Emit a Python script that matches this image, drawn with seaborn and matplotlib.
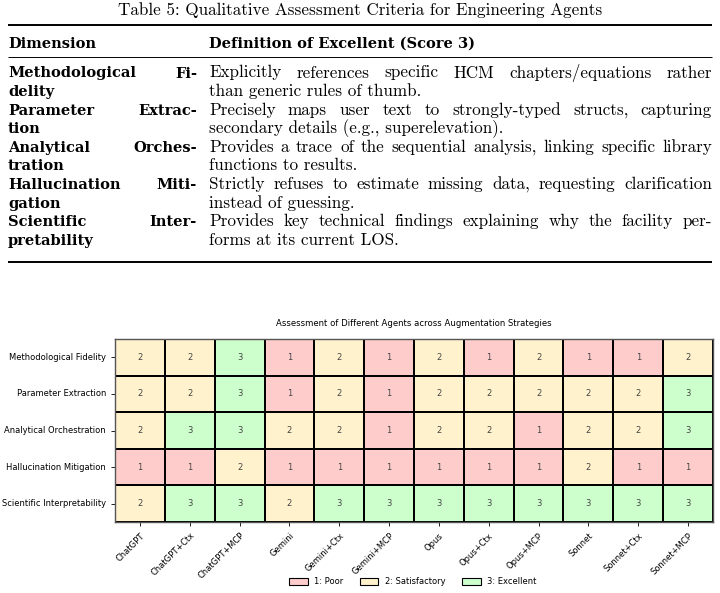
import matplotlib
matplotlib.use("Agg")
import matplotlib.pyplot as plt
import seaborn as sns
import numpy as np
import pandas as pd
from matplotlib.colors import ListedColormap
from matplotlib.patches import Patch

# ---------------- data ----------------
caption = "Table 5: Qualitative Assessment Criteria for Engineering Agents"
header_dim = "Dimension"
header_def = "Definition of Excellent (Score 3)"

dim_lines = [
    ["Methodological Fi-", "delity"],
    ["Parameter Extrac-", "tion"],
    ["Analytical Orches-", "tration"],
    ["Hallucination Miti-", "gation"],
    ["Scientific Inter-", "pretability"],
]
def_lines = [
    ["Explicitly references specific HCM chapters/equations rather",
     "than generic rules of thumb."],
    ["Precisely maps user text to strongly-typed structs, capturing",
     "secondary details (e.g., superelevation)."],
    ["Provides a trace of the sequential analysis, linking specific library",
     "functions to results."],
    ["Strictly refuses to estimate missing data, requesting clarification",
     "instead of guessing."],
    ["Provides key technical findings explaining why the facility per-",
     "forms at its current LOS."],
]

agents = ["ChatGPT", "ChatGPT+Ctx", "ChatGPT+MCP", "Gemini", "Gemini+Ctx",
          "Gemini+MCP", "Opus", "Opus+Ctx", "Opus+MCP", "Sonnet",
          "Sonnet+Ctx", "Sonnet+MCP"]
dimensions = ["Methodological Fidelity", "Parameter Extraction",
              "Analytical Orchestration", "Hallucination Mitigation",
              "Scientific Interpretability"]
methodological_fidelity = [2, 2, 3, 1, 2, 1, 2, 1, 2, 1, 1, 2]
parameter_extraction = [2, 2, 3, 1, 2, 1, 2, 2, 2, 2, 2, 3]
analytical_orchestration = [2, 3, 3, 2, 2, 1, 2, 2, 1, 2, 2, 3]
hallucination_mitigation = [1, 1, 2, 1, 1, 1, 1, 1, 1, 2, 1, 1]
scientific_interpretability = [2, 3, 3, 2, 3, 3, 3, 3, 3, 3, 3, 3]
score_labels = ["1: Poor", "2: Satisfactory", "3: Excellent"]
score_colors = ["#ffcccc", "#fff2cc", "#ccffcc"]

# ---------------- figure ----------------
W, H = 720, 593
fig = plt.figure(figsize=(W / 100, H / 100), dpi=100)
bg = fig.add_axes([0, 0, 1, 1])
bg.set_xlim(0, W)
bg.set_ylim(H, 0)
bg.axis("off")

SERIF = "cmr10"
SERIF_B = "DejaVu Serif"
renderer = fig.canvas.get_renderer()


def width_of(s, family, fs, weight="normal"):
    t = bg.text(0, 0, s, fontsize=fs, family=family, weight=weight)
    bb = t.get_window_extent(renderer=renderer)
    t.remove()
    return bb.width


# size the fonts so that reference-measured strings have their widths
FS = 10 * 212 / width_of("than generic rules of thumb.", SERIF, 10)
FSB = 0.92 * 10 * 96 / width_of("Dimension", SERIF_B, 10, "bold")


def put(x, y, s, bold=False, **kw):
    if bold:
        return bg.text(x, y, s, fontsize=FSB, family=SERIF_B, weight="bold",
                       va="baseline", **kw)
    return bg.text(x, y, s, fontsize=FS, family=SERIF, va="baseline", **kw)


def justified(line, x0, x1, y, bold=False):
    words = line.split(" ")
    if len(words) == 1:
        put(x0, y, line, bold)
        return
    fam = SERIF_B if bold else SERIF
    fs = FSB if bold else FS
    wt = "bold" if bold else "normal"
    widths = [width_of(w, fam, fs, wt) for w in words]
    gap = (x1 - x0 - sum(widths)) / (len(words) - 1)
    x = x0
    for w, wd in zip(words, widths):
        put(x, y, w, bold)
        x += wd + gap


put(W / 2, 15, caption, ha="center")
bg.plot([8, 712], [25, 25], color="black", lw=1.4, solid_capstyle="butt")
put(8, 48, header_dim, bold=True)
put(209, 48, header_def, bold=True)
bg.plot([8, 712], [57, 57], color="black", lw=0.7, solid_capstyle="butt")

y = 77.5
for dl, fl in zip(dim_lines, def_lines):
    justified(dl[0], 8, 197, y, bold=True)
    justified(fl[0], 209, 712, y)
    y += 18.6
    put(8, y, dl[1], bold=True)
    put(209, y, fl[1])
    y += 18.6
bg.plot([8, 712], [262, 262], color="black", lw=1.4, solid_capstyle="butt")

# ---------------- heatmap ----------------
df = pd.DataFrame(
    [methodological_fidelity, parameter_extraction, analytical_orchestration,
     hallucination_mitigation, scientific_interpretability],
    index=dimensions, columns=agents)

ax = fig.add_axes([115 / W, 1 - 522 / H, (713 - 115) / W, (522 - 339) / H])
sns.heatmap(df, ax=ax, cmap=ListedColormap(score_colors), vmin=0.5, vmax=3.5,
            annot=True, fmt="d", annot_kws={"fontsize": 6, "color": "#444444"},
            linewidths=1.1, linecolor="black", cbar=False)
for s in ax.spines.values():
    s.set_visible(True)
    s.set_color("#555555")
    s.set_linewidth(1)
ax.set_xlabel("")
ax.set_ylabel("")
ax.tick_params(axis="both", labelsize=6, length=3, width=0.6)
ax.set_yticklabels(dimensions, rotation=0, fontsize=6)
ax.set_xticklabels(agents, rotation=45, ha="right", rotation_mode="anchor", fontsize=6)
ax.set_title("Assessment of Different Agents across Augmentation Strategies",
             fontsize=6.1, pad=9)

handles = [Patch(facecolor=c, edgecolor="black", linewidth=0.8) for c in score_colors]
fig.legend(handles, score_labels, loc="center", bbox_to_anchor=(413 / W, 1 - 582 / H),
           ncol=3, frameon=False, fontsize=6, handlelength=2.2, handleheight=0.8,
           columnspacing=2.0)

fig.savefig("out.png", dpi=100)
